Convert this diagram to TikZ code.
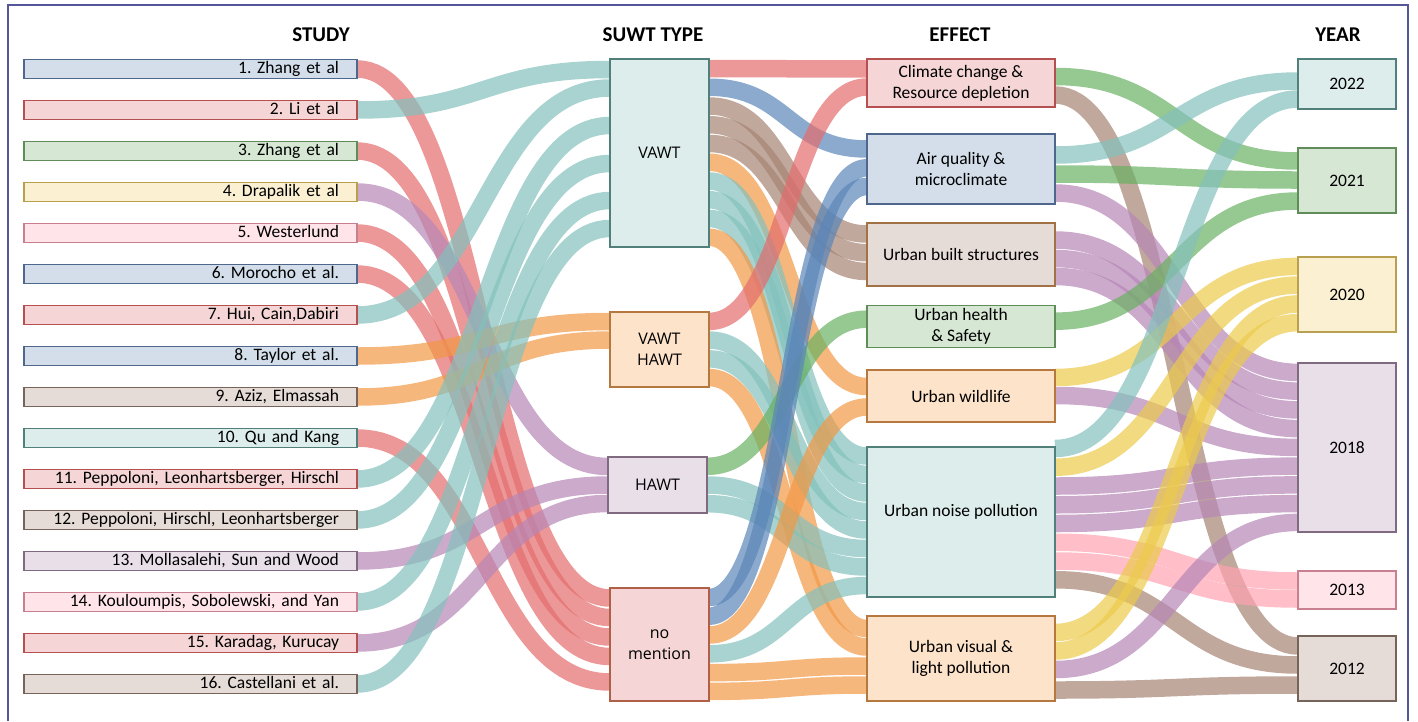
\documentclass[tikz,border=0pt]{standalone}
\usepackage{fontspec}
\setmainfont{Carlito}
\newfontfamily\typefont{Open Sans}
\usepackage{tikz}
\usetikzlibrary{backgrounds}
\frenchspacing
% couleurs des liens
\definecolor{frouge}{RGB}{228,108,108}
\definecolor{fteal}{RGB}{131,193,188}
\definecolor{forange}{RGB}{241,152,69}
\definecolor{fviolet}{RGB}{182,134,182}
\definecolor{fbleu}{RGB}{91,134,184}
\definecolor{fbrun}{RGB}{165,131,114}
\definecolor{fvert}{RGB}{105,176,98}
\definecolor{fjaune}{RGB}{236,202,76}
\definecolor{frose}{RGB}{255,162,177}
% couleurs des boites
\definecolor{bbleu}{RGB}{211,222,234}
\definecolor{dbleu}{RGB}{79,103,140}
\definecolor{brouge}{RGB}{245,213,213}
\definecolor{drouge}{RGB}{180,80,80}
\definecolor{bvert}{RGB}{214,232,212}
\definecolor{dvert}{RGB}{96,140,90}
\definecolor{bjaune}{RGB}{251,241,210}
\definecolor{djaune}{RGB}{185,160,80}
\definecolor{brose}{RGB}{255,229,234}
\definecolor{drose}{RGB}{200,128,144}
\definecolor{bbrun}{RGB}{230,220,215}
\definecolor{dbrun}{RGB}{118,100,90}
\definecolor{bteal}{RGB}{220,237,235}
\definecolor{dteal}{RGB}{80,128,121}
\definecolor{bviolet}{RGB}{233,223,233}
\definecolor{dviolet}{RGB}{128,106,128}
\definecolor{bpeche}{RGB}{253,227,202}
\definecolor{dpeche}{RGB}{181,120,62}
\definecolor{dnomen}{RGB}{176,96,70}
\definecolor{cadre}{RGB}{85,85,154}
\tikzstyle{etude}=[rectangle,draw,line width=1.3pt,outer sep=0pt,
        minimum height=19pt,inner xsep=18pt,inner ysep=0pt,
        text width=297pt,align=right,text height=12pt,text depth=3pt,
        font=\fontsize{17.5}{20}\selectfont]
\tikzstyle{genre}=[rectangle,draw,line width=1.2pt,outer sep=0pt,
        minimum width=99pt,align=center,font=\typefont\fontsize{16}{21}\selectfont]
\tikzstyle{effet}=[rectangle,draw,line width=1.2pt,outer sep=0pt,
        minimum width=188pt,align=center,font=\fontsize{17.5}{21}\selectfont]
\tikzstyle{annee}=[rectangle,draw,line width=1.2pt,outer sep=0pt,
        minimum width=98pt,font=\fontsize{17.5}{20}\selectfont]
\tikzstyle{titre}=[font=\bfseries\fontsize{21}{25}\selectfont]
\tikzstyle{lien}=[line width=17.5pt,draw opacity=0.7]
\tikzstyle{bord}=[draw=cadre,line width=2pt]

\begin{document}
\begin{tikzpicture}[x=1pt,y=-1pt]
\useasboundingbox (0,0) rectangle (1418,721);
\draw[bord] (8,721) -- (8,5) -- (1408,5) -- (1408,721);
%Titres
\node[titre] (tetude) at (321,35) {STUDY};
\node[titre] (tgenre) at (653,35) {SUWT TYPE};
\node[titre] (teffet) at (960,35) {EFFECT};
\node[titre] (tannee) at (1338,35) {YEAR};
%Etudes
\node[etude,fill=bbleu,draw=dbleu] (s1) at (190.5,69) {1. Zhang et al};
\node[etude,fill=brouge,draw=drouge] (s2) at (190.5,110) {2. Li et al};
\node[etude,fill=bvert,draw=dvert] (s3) at (190.5,151) {3. Zhang et al};
\node[etude,fill=bjaune,draw=djaune] (s4) at (190.5,192) {4. Drapalik et al};
\node[etude,fill=brose,draw=drose] (s5) at (190.5,233) {5. Westerlund};
\node[etude,fill=bbleu,draw=dbleu] (s6) at (190.5,274) {6. Morocho et al.};
\node[etude,fill=brouge,draw=drouge] (s7) at (190.5,315) {7. Hui, Cain,Dabiri};
\node[etude,fill=bbleu,draw=dbleu] (s8) at (190.5,356) {8. Taylor et al.};
\node[etude,fill=bbrun,draw=dbrun] (s9) at (190.5,397) {9. Aziz, Elmassah};
\node[etude,fill=bteal,draw=dteal] (s10) at (190.5,438) {10. Qu and Kang};
\node[etude,fill=brouge,draw=drouge] (s11) at (190.5,479) {11. Peppoloni, Leonhartsberger, Hirschl};
\node[etude,fill=bbrun,draw=dbrun] (s12) at (190.5,520) {12. Peppoloni, Hirschl, Leonhartsberger};
\node[etude,fill=bviolet,draw=dviolet] (s13) at (190.5,561) {13. Mollasalehi, Sun and Wood};
\node[etude,fill=brose,draw=drose] (s14) at (190.5,602) {14. Kouloumpis, Sobolewski, and Yan};
\node[etude,fill=brouge,draw=drouge] (s15) at (190.5,643) {15. Karadag, Kurucay};
\node[etude,fill=bbrun,draw=dbrun] (s16) at (190.5,684) {16. Castellani et al.};
%Types
\node[genre,fill=bteal,draw=dteal,minimum height=188pt] (vawt) at (659.5,153) {VAWT};
\node[genre,fill=bpeche,draw=dpeche,minimum height=75pt] (vh) at (659.5,349.5) {VAWT\\HAWT};
\node[genre,fill=bviolet,draw=dviolet,minimum height=56pt] (hawt) at (657.5,485) {HAWT};
\node[genre,fill=brouge,draw=dnomen,minimum height=113pt] (nomen) at (659.5,644.5) {no\\mention};
%Effets
\node[effet,fill=brouge,draw=drouge,minimum height=48pt] (clim) at (961,83) {Climate change \&\\Resource depletion};
\node[effet,fill=bbleu,draw=dbleu,minimum height=70pt] (air) at (961,169) {Air quality \&\\microclimate};
\node[effet,fill=bbrun,draw=dpeche!70!dbrun,minimum height=63pt] (bati) at (961,254.5) {Urban built structures};
\node[effet,fill=bvert,draw=dvert,minimum height=41pt] (sante) at (961,326.5) {Urban health\\\& Safety};
\node[effet,fill=bpeche,draw=dpeche,minimum height=52pt] (faune) at (961,396) {Urban wildlife};
\node[effet,fill=bteal,draw=dteal,minimum height=150pt,text height=12pt,text depth=23pt] (bruit) at (961,522) {Urban noise pollution};
\node[effet,fill=bpeche,draw=dpeche,minimum height=85pt] (visuel) at (961,658.5) {Urban visual \&\\light pollution};
%Annees
\node[annee,fill=bteal,draw=dteal,minimum height=50pt] (a22) at (1347,84) {2022};
\node[annee,fill=bvert,draw=dvert,minimum height=65pt] (a21) at (1347,180.5) {2021};
\node[annee,fill=bjaune,draw=djaune,minimum height=75pt] (a20) at (1347,294.5) {2020};
\node[annee,fill=bviolet,draw=dviolet,minimum height=169pt] (a18) at (1347,447.5) {2018};
\node[annee,fill=brose,draw=drose,minimum height=38pt] (a13) at (1347,590) {2013};
\node[annee,fill=bbrun,draw=dbrun,minimum height=65pt] (a12) at (1347,668.5) {2012};
%Liens etude -> type
\begin{scope}[on background layer]
\draw[lien,frouge] (s1.east) .. controls +(126,0) and +(-126,0) .. ([yshift=-10]nomen.north west);
\draw[lien,fteal] (s2.east) .. controls +(126,0) and +(-126,0) .. ([yshift=-10.5]vawt.north west);
\draw[lien,frouge] (s3.east) .. controls +(126,0) and +(-126,0) .. ([yshift=-29.5]nomen.north west);
\draw[lien,fviolet] (s4.east) .. controls +(126,0) and +(-126,0) .. ([yshift=-9.5]hawt.north west);
\draw[lien,frouge] (s5.east) .. controls +(126,0) and +(-126,0) .. ([yshift=-49]nomen.north west);
\draw[lien,frouge] (s6.east) .. controls +(126,0) and +(-126,0) .. ([yshift=-68.5]nomen.north west);
\draw[lien,fteal] (s7.east) .. controls +(126,0) and +(-126,0) .. ([yshift=-29]vawt.north west);
\draw[lien,forange] (s8.east) .. controls +(126,0) and +(-126,0) .. ([yshift=-9.5]vh.north west);
\draw[lien,forange] (s9.east) .. controls +(126,0) and +(-126,0) .. ([yshift=-28]vh.north west);
\draw[lien,frouge] (s10.east) .. controls +(126,0) and +(-126,0) .. ([yshift=-94]nomen.north west);
\draw[lien,fteal] (s11.east) .. controls +(126,0) and +(-126,0) .. ([yshift=-66.5]vawt.north west);
\draw[lien,fteal] (s12.east) .. controls +(126,0) and +(-126,0) .. ([yshift=-104.5]vawt.north west);
\draw[lien,fviolet] (s13.east) .. controls +(126,0) and +(-126,0) .. ([yshift=-28]hawt.north west);
\draw[lien,fteal] (s14.east) .. controls +(126,0) and +(-126,0) .. ([yshift=-141.5]vawt.north west);
\draw[lien,fviolet] (s15.east) .. controls +(126,0) and +(-126,0) .. ([yshift=-46.5]hawt.north west);
\draw[lien,fteal] (s16.east) .. controls +(126,0) and +(-126,0) .. ([yshift=-169.5]vawt.north west);
%Liens type -> effet
\draw[lien,frouge] ([yshift=-9.5]vawt.north east) .. controls +(79,0) and +(-79,0) .. ([yshift=-10]clim.north west);
\draw[lien,fbleu] ([yshift=-28.25]vawt.north east) .. controls +(79,0) and +(-79,0) .. ([yshift=-15]air.north west);
\draw[lien,fbrun] ([yshift=-47]vawt.north east) .. controls +(79,0) and +(-79,0) .. ([yshift=-11]bati.north west);
\draw[lien,fbrun] ([yshift=-65.75]vawt.north east) .. controls +(79,0) and +(-79,0) .. ([yshift=-29.75]bati.north west);
\draw[lien,fbrun] ([yshift=-84.5]vawt.north east) .. controls +(79,0) and +(-79,0) .. ([yshift=-48.5]bati.north west);
\draw[lien,forange] ([yshift=-103.25]vawt.north east) .. controls +(79,0) and +(-79,0) .. ([yshift=-16.5]faune.north west);
\draw[lien,fteal] ([yshift=-122]vawt.north east) .. controls +(79,0) and +(-79,0) .. ([yshift=-9]bruit.north west);
\draw[lien,fteal] ([yshift=-140.75]vawt.north east) .. controls +(79,0) and +(-79,0) .. ([yshift=-27.5]bruit.north west);
\draw[lien,fteal] ([yshift=-159.5]vawt.north east) .. controls +(79,0) and +(-79,0) .. ([yshift=-46]bruit.north west);
\draw[lien,forange] ([yshift=-178.25]vawt.north east) .. controls +(79,0) and +(-79,0) .. ([yshift=-12.5]visuel.north west);
\draw[lien,frouge] ([yshift=-9.4]vh.north east) .. controls +(79,0) and +(-79,0) .. ([yshift=-28]clim.north west);
\draw[lien,fteal] ([yshift=-28.1]vh.north east) .. controls +(79,0) and +(-79,0) .. ([yshift=-64.5]bruit.north west);
\draw[lien,fteal] ([yshift=-46.9]vh.north east) .. controls +(79,0) and +(-79,0) .. ([yshift=-83]bruit.north west);
\draw[lien,forange] ([yshift=-65.6]vh.north east) .. controls +(79,0) and +(-79,0) .. ([yshift=-31]visuel.north west);
\draw[lien,fvert] ([yshift=-9.3]hawt.north east) .. controls +(80,0) and +(-80,0) .. ([yshift=-14]sante.north west);
\draw[lien,fteal] ([yshift=-28]hawt.north east) .. controls +(80,0) and +(-80,0) .. ([yshift=-101.5]bruit.north west);
\draw[lien,fteal] ([yshift=-46.7]hawt.north east) .. controls +(80,0) and +(-80,0) .. ([yshift=-120]bruit.north west);
\draw[lien,fbleu] ([yshift=-9.4]nomen.north east) .. controls +(79,0) and +(-79,0) .. ([yshift=-33.75]air.north west);
\draw[lien,fbleu] ([yshift=-28.2]nomen.north east) .. controls +(79,0) and +(-79,0) .. ([yshift=-52.5]air.north west);
\draw[lien,forange] ([yshift=-47]nomen.north east) .. controls +(79,0) and +(-79,0) .. ([yshift=-37]faune.north west);
\draw[lien,fteal] ([yshift=-65.8]nomen.north east) .. controls +(79,0) and +(-79,0) .. ([yshift=-138.5]bruit.north west);
\draw[lien,forange] ([yshift=-84.6]nomen.north east) .. controls +(79,0) and +(-79,0) .. ([yshift=-50]visuel.north west);
\draw[lien,forange] ([yshift=-103.4]nomen.north east) .. controls +(79,0) and +(-79,0) .. ([yshift=-69]visuel.north west);
%Liens effet -> annee
\draw[lien,fvert] ([yshift=-17.5]clim.north east) .. controls +(121.5,0) and +(-121.5,0) .. ([yshift=-13]a21.north west);
\draw[lien,fbrun] ([yshift=-36]clim.north east) .. controls +(121.5,0) and +(-121.5,0) .. ([yshift=-10]a12.north west);
\draw[lien,fteal] ([yshift=-21]air.north east) .. controls +(121.5,0) and +(-121.5,0) .. ([yshift=-22]a22.north west);
\draw[lien,fvert] ([yshift=-40]air.north east) .. controls +(121.5,0) and +(-121.5,0) .. ([yshift=-32]a21.north west);
\draw[lien,fviolet] ([yshift=-59]air.north east) .. controls +(121.5,0) and +(-121.5,0) .. ([yshift=-9.4]a18.north west);
\draw[lien,fviolet] ([yshift=-17]bati.north east) .. controls +(121.5,0) and +(-121.5,0) .. ([yshift=-28.1]a18.north west);
\draw[lien,fviolet] ([yshift=-35.5]bati.north east) .. controls +(121.5,0) and +(-121.5,0) .. ([yshift=-46.9]a18.north west);
\draw[lien,fviolet] ([yshift=-53.5]bati.north east) .. controls +(121.5,0) and +(-121.5,0) .. ([yshift=-65.6]a18.north west);
\draw[lien,fvert] ([yshift=-16]sante.north east) .. controls +(121.5,0) and +(-121.5,0) .. ([yshift=-53]a21.north west);
\draw[lien,fjaune] ([yshift=-7.5]faune.north east) .. controls +(121.5,0) and +(-121.5,0) .. ([yshift=-9.4]a20.north west);
\draw[lien,fviolet] ([yshift=-25.5]faune.north east) .. controls +(121.5,0) and +(-121.5,0) .. ([yshift=-84.4]a18.north west);
\draw[lien,fteal] ([yshift=-1.5]bruit.north east) .. controls +(121.5,0) and +(-121.5,0) .. ([yshift=-40]a22.north west);
\draw[lien,fjaune] ([yshift=-20.25]bruit.north east) .. controls +(121.5,0) and +(-121.5,0) .. ([yshift=-28.1]a20.north west);
\draw[lien,fviolet] ([yshift=-39]bruit.north east) .. controls +(121.5,0) and +(-121.5,0) .. ([yshift=-103.1]a18.north west);
\draw[lien,fviolet] ([yshift=-57.75]bruit.north east) .. controls +(121.5,0) and +(-121.5,0) .. ([yshift=-121.9]a18.north west);
\draw[lien,fviolet] ([yshift=-76.5]bruit.north east) .. controls +(121.5,0) and +(-121.5,0) .. ([yshift=-140.6]a18.north west);
\draw[lien,frose] ([yshift=-95.25]bruit.north east) .. controls +(121.5,0) and +(-121.5,0) .. ([yshift=-10]a13.north west);
\draw[lien,frose] ([yshift=-114]bruit.north east) .. controls +(121.5,0) and +(-121.5,0) .. ([yshift=-28]a13.north west);
\draw[lien,fbrun] ([yshift=-132.75]bruit.north east) .. controls +(121.5,0) and +(-121.5,0) .. ([yshift=-29]a12.north west);
\draw[lien,fjaune] ([yshift=-16.5]visuel.north east) .. controls +(121.5,0) and +(-121.5,0) .. ([yshift=-46.9]a20.north west);
\draw[lien,fjaune] ([yshift=-35]visuel.north east) .. controls +(121.5,0) and +(-121.5,0) .. ([yshift=-65.6]a20.north west);
\draw[lien,fviolet] ([yshift=-53.5]visuel.north east) .. controls +(121.5,0) and +(-121.5,0) .. ([yshift=-159.4]a18.north west);
\draw[lien,fbrun] ([yshift=-74]visuel.north east) .. controls +(121.5,0) and +(-121.5,0) .. ([yshift=-49]a12.north west);
\end{scope}
\end{tikzpicture}
\end{document}
